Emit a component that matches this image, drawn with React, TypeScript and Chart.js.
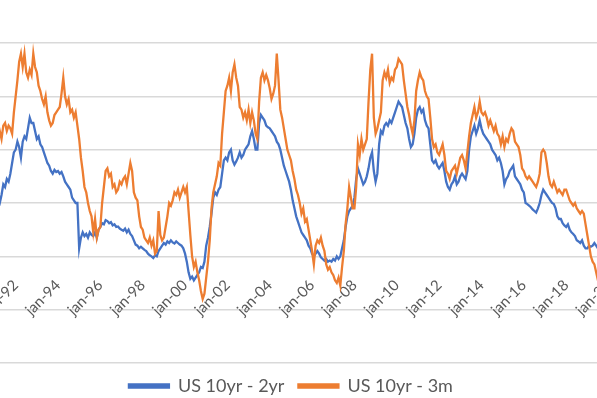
import { useEffect, useRef } from 'react';
import { Chart, registerables } from 'chart.js';

Chart.register(...registerables);

// Monthly observations starting January 1990
const START_YEAR = 1990;

const seriesNames = ['US 10yr - 2yr', 'US 10yr - 3m'];

const spread10y2y = [
  0.10, 0.05, 0.10, 0.12, 0.20, 0.30, 0.45, 0.55, 0.60, 0.70, 0.85, 0.90,
  0.95, 1.00, 1.05, 1.00, 1.15, 1.35, 1.30, 1.45, 1.40, 1.55, 1.75, 1.95,
  2.00, 2.15, 2.05, 1.85, 2.15, 2.25, 2.20, 2.40, 2.60, 2.50, 2.50, 2.35,
  2.20, 2.25, 2.10, 2.05, 1.95, 1.85, 1.75, 1.70, 1.60, 1.55, 1.62, 1.58,
  1.60, 1.55, 1.58, 1.50, 1.40, 1.35, 1.30, 1.25, 1.10, 1.05, 1.00, 1.00,
  0.15, 0.35, 0.45, 0.38, 0.42, 0.35, 0.45, 0.40, 0.38, 0.45, 0.35, 0.50,
  0.55, 0.62, 0.60, 0.68, 0.66, 0.62, 0.64, 0.58, 0.60, 0.55, 0.56, 0.52,
  0.50, 0.48, 0.52, 0.45, 0.50, 0.42, 0.38, 0.30, 0.22, 0.20, 0.15, 0.18,
  0.15, 0.12, 0.10, 0.05, 0.02, 0.00, -0.03, 0.02, 0.00, 0.10, 0.15, 0.20,
  0.25, 0.22, 0.28, 0.25, 0.30, 0.26, 0.24, 0.28, 0.25, 0.22, 0.20, 0.15,
  0.05, -0.10, -0.30, -0.42, -0.38, -0.45, -0.40, -0.35, -0.30, -0.20, -0.22, -0.10,
  0.20, 0.35, 0.55, 0.80, 1.10, 1.20, 1.15, 1.25, 1.30, 1.55, 1.80, 1.85,
  1.80, 1.95, 2.00, 1.80, 1.72, 1.78, 1.85, 1.95, 1.85, 1.90, 2.00, 2.05,
  2.10, 2.25, 2.35, 2.20, 2.00, 2.00, 2.50, 2.65, 2.60, 2.55, 2.45, 2.42,
  2.40, 2.35, 2.30, 2.25, 2.15, 2.10, 2.00, 1.85, 1.70, 1.60, 1.50, 1.40,
  1.25, 1.05, 0.90, 0.75, 0.65, 0.55, 0.45, 0.40, 0.35, 0.30, 0.20, 0.15,
  0.05, 0.00, 0.05, 0.10, 0.05, -0.02, -0.05, -0.08, -0.05, -0.10, -0.08, -0.10,
  -0.05, -0.08, 0.00, -0.05, 0.00, 0.15, 0.30, 0.55, 0.75, 0.85, 0.90, 0.95,
  1.10, 1.45, 1.65, 1.55, 1.45, 1.35, 1.40, 1.50, 1.65, 1.85, 1.95, 1.60,
  1.40, 1.55, 2.10, 2.35, 2.30, 2.45, 2.50, 2.45, 2.55, 2.50, 2.60, 2.70,
  2.80, 2.90, 2.85, 2.80, 2.65, 2.50, 2.40, 2.20, 2.05, 2.10, 2.30, 2.60,
  2.75, 2.80, 2.70, 2.75, 2.55, 2.45, 2.40, 2.10, 1.80, 1.75, 1.80, 1.70,
  1.65, 1.70, 1.75, 1.60, 1.40, 1.30, 1.25, 1.35, 1.40, 1.50, 1.35, 1.40,
  1.50, 1.55, 1.50, 1.45, 1.60, 2.00, 2.25, 2.35, 2.45, 2.30, 2.40, 2.55,
  2.40, 2.30, 2.25, 2.20, 2.15, 2.10, 2.00, 1.95, 1.90, 1.80, 1.85, 1.75,
  1.60, 1.35, 1.45, 1.50, 1.60, 1.65, 1.70, 1.50, 1.45, 1.40, 1.35, 1.25,
  1.20, 1.00, 0.98, 0.95, 0.92, 0.88, 0.85, 0.82, 0.90, 1.00, 1.15, 1.25,
  1.20, 1.15, 1.10, 1.05, 1.00, 0.98, 0.90, 0.75, 0.70, 0.70, 0.62, 0.58,
  0.55, 0.60, 0.50, 0.45, 0.42, 0.38, 0.30, 0.28, 0.25, 0.30, 0.20, 0.15,
  0.15, 0.20, 0.18, 0.20, 0.25, 0.20, 0.15, 0.05,
];

const spread10y3m = [
  0.30, 0.35, 0.50, 0.60, 0.60, 0.45, 0.55, 0.85, 1.00, 1.20, 1.30, 1.55,
  1.80, 2.10, 2.25, 2.35, 2.20, 2.45, 2.50, 2.35, 2.45, 2.40, 2.30, 2.70,
  3.00, 3.30, 3.65, 3.80, 3.55, 3.80, 3.45, 3.35, 3.50, 3.40, 3.80, 3.55,
  3.45, 3.20, 3.10, 2.95, 2.85, 3.00, 2.70, 2.55, 2.45, 2.50, 2.65, 2.70,
  2.75, 2.80, 3.05, 3.35, 3.00, 2.85, 2.95, 2.70, 2.75, 2.60, 2.70, 2.45,
  2.20, 1.85, 1.60, 1.30, 1.20, 1.00, 0.85, 0.75, 0.45, 0.70, 0.35, 0.50,
  0.55, 1.00, 1.30, 1.60, 1.65, 1.50, 1.55, 1.30, 1.35, 1.20, 1.25, 1.40,
  1.35, 1.45, 1.50, 1.35, 1.55, 1.75, 1.60, 1.20, 1.10, 1.05, 0.75, 0.55,
  0.50, 0.35, 0.30, 0.25, 0.35, 0.20, 0.30, 0.05, 0.10, 0.85, 0.40, 0.30,
  0.35, 0.55, 0.75, 1.00, 0.95, 1.05, 1.20, 1.15, 1.25, 1.10, 1.20, 1.30,
  1.20, 1.30, 0.85, 0.40, 0.00, -0.20, -0.10, -0.30, -0.45, -0.65, -0.80, -0.70,
  -0.40, -0.10, 0.30, 0.90, 1.20, 1.35, 1.50, 1.75, 1.70, 2.30, 2.70, 3.10,
  3.20, 3.35, 3.10, 3.45, 3.60, 3.35, 3.20, 2.80, 2.75, 2.60, 2.70, 2.55,
  2.75, 2.50, 2.70, 2.55, 2.30, 2.20, 2.90, 3.35, 3.45, 3.30, 3.40, 3.30,
  3.15, 2.95, 3.05, 3.20, 3.80, 3.30, 2.75, 2.60, 2.40, 2.20, 2.00, 1.90,
  1.80, 1.60, 1.45, 1.25, 1.15, 1.00, 0.80, 0.90, 0.65, 0.70, 0.50, 0.30,
  0.10, -0.15, 0.20, 0.30, 0.25, 0.35, 0.20, 0.10, -0.15, -0.25, -0.20, -0.30,
  -0.35, -0.45, -0.50, -0.40, -0.55, -0.20, 0.10, 0.60, 0.90, 1.30, 1.10, 0.90,
  0.90, 1.30, 2.10, 1.90, 2.20, 2.00, 2.10, 2.20, 2.90, 3.50, 3.80, 2.60,
  2.30, 2.40, 2.55, 2.70, 3.30, 3.45, 3.35, 3.50, 3.25, 3.35, 3.30, 3.50,
  3.55, 3.70, 3.65, 3.60, 3.30, 3.05, 2.80, 2.65, 2.45, 2.30, 2.55, 3.10,
  3.30, 3.45, 3.35, 3.30, 3.10, 3.00, 2.95, 2.60, 2.20, 2.05, 2.10, 1.95,
  1.90, 2.00, 2.10, 1.90, 1.60, 1.55, 1.45, 1.60, 1.65, 1.70, 1.55, 1.70,
  1.85, 1.90, 1.80, 1.65, 1.95, 2.25, 2.50, 2.65, 2.80, 2.60, 2.70, 2.90,
  2.70, 2.65, 2.70, 2.60, 2.45, 2.55, 2.45, 2.35, 2.45, 2.30, 2.25, 2.10,
  2.25, 2.05, 2.20, 2.15, 2.30, 2.40, 2.35, 2.15, 2.10, 2.05, 1.90, 1.65,
  1.60, 1.50, 1.45, 1.50, 1.45, 1.40, 1.35, 1.30, 1.40, 1.55, 1.95, 2.00,
  1.95, 1.75, 1.50, 1.35, 1.30, 1.40, 1.30, 1.20, 1.25, 1.20, 1.15, 1.25,
  1.25, 1.15, 1.05, 1.00, 0.95, 1.00, 0.90, 0.85, 0.80, 0.85, 0.80, 0.60,
  0.40, 0.20, 0.00, -0.10, -0.15, -0.30, -0.45, -0.60,
];

const tickYears = [1990, 1992, 1994, 1996, 1998, 2000, 2002, 2004, 2006, 2008, 2010, 2012, 2014, 2016, 2018, 2020];
const tickLabels = ['jan-90', 'jan-92', 'jan-94', 'jan-96', 'jan-98', 'jan-00', 'jan-02', 'jan-04', 'jan-06', 'jan-08', 'jan-10', 'jan-12', 'jan-14', 'jan-16', 'jan-18', 'jan-20'];
const yTicks = [-2, -1, 0, 1, 2, 3, 4];

const BLUE = '#4472C4';
const ORANGE = '#ED7D31';
const TEXT = '#595959';

export default function App() {
  const ref = useRef<HTMLCanvasElement>(null);

  useEffect(() => {
    if (!ref.current) return;
    const toPoints = (arr: number[]) => arr.map((v, i) => ({ x: START_YEAR + i / 12, y: v }));
    const chart = new Chart(ref.current, {
      type: 'line',
      data: {
        datasets: [
          {
            label: seriesNames[0],
            data: toPoints(spread10y2y),
            borderColor: BLUE,
            backgroundColor: BLUE,
            borderWidth: 2.3,
            pointRadius: 0,
            tension: 0,
            order: 1,
          },
          {
            label: seriesNames[1],
            data: toPoints(spread10y3m),
            borderColor: ORANGE,
            backgroundColor: ORANGE,
            borderWidth: 2.3,
            pointRadius: 0,
            tension: 0,
            order: 0,
          },
        ],
      },
      options: {
        animation: false,
        responsive: false,
        layout: { padding: { left: 23.3, right: 39.5, top: 43, bottom: 0 } },
        scales: {
          x: {
            type: 'linear',
            min: tickYears[0],
            max: tickYears[tickYears.length - 1],
            position: { y: 0 } as any,
            grid: { display: false },
            border: { display: false },
            afterBuildTicks: (s: any) => {
              s.ticks = tickYears.map((v) => ({ value: v }));
            },
            afterFit: (s: any) => {
              s.height = 0;
              s.paddingLeft = 0;
              s.paddingRight = 0;
              s.paddingTop = 0;
              s.paddingBottom = 0;
            },
            ticks: {
              autoSkip: false,
              minRotation: 45,
              maxRotation: 45,
              padding: 12,
              color: TEXT,
              font: { family: 'Lato', size: 15 },
              callback: (v: any) => {
                const idx = tickYears.indexOf(Number(v));
                return idx >= 0 ? tickLabels[idx] : '';
              },
            },
          },
          y: {
            type: 'linear',
            min: yTicks[0],
            max: yTicks[yTicks.length - 1],
            afterBuildTicks: (s: any) => {
              s.ticks = yTicks.map((v) => ({ value: v }));
            },
            afterFit: (s: any) => {
              s.width = 0;
            },
            ticks: { display: false },
            grid: { color: '#d9d9d9', lineWidth: 1.5, drawTicks: false },
            border: { display: false },
          },
        },
        plugins: {
          legend: {
            position: 'bottom',
            labels: {
              boxWidth: 40,
              boxHeight: 3,
              padding: 14,
              color: TEXT,
              font: { family: 'Lato', size: 18 },
              sort: (a: any, b: any) => a.datasetIndex - b.datasetIndex,
            },
          },
          tooltip: { enabled: false },
        },
      },
    });
    return () => chart.destroy();
  }, []);

  return (
    <div style={{ position: 'fixed', left: 0, top: 0, width: 597, height: 398, overflow: 'hidden', background: '#ffffff' }}>
      <div style={{ position: 'absolute', left: -50, top: 0, width: 698, height: 405 }}>
        <canvas ref={ref} width={698} height={405} style={{ display: 'block' }} />
      </div>
    </div>
  );
}
